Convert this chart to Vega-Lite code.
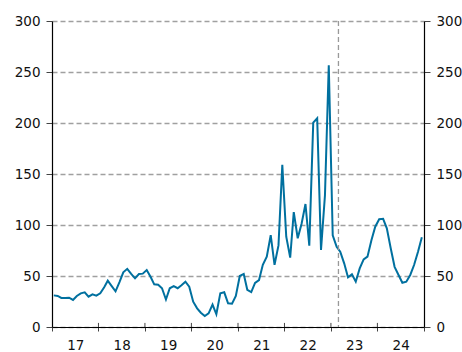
{
  "$schema": "https://vega.github.io/schema/vega-lite/v6.json",
  "width": 372,
  "height": 306,
  "autosize": "none",
  "padding": {"left": 52, "top": 21, "right": 38, "bottom": 25},
  "background": "white",
  "config": {
    "view": {"stroke": null},
    "axis": {"labelFont": "DejaVu Sans", "labelFontSize": 13.5, "labelColor": "#111", "domainColor": "#000", "tickColor": "#444", "title": null}
  },
  "datasets": {
    "series": [
      {"date": "2017-01-15", "value": 31}, {"date": "2017-02-15", "value": 30.5}, {"date": "2017-03-15", "value": 28.5}, {"date": "2017-04-15", "value": 28.5}, {"date": "2017-05-15", "value": 28.7}, {"date": "2017-06-15", "value": 26.5}, {"date": "2017-07-15", "value": 30.4}, {"date": "2017-08-15", "value": 33}, {"date": "2017-09-15", "value": 34}, {"date": "2017-10-15", "value": 29.7}, {"date": "2017-11-15", "value": 32}, {"date": "2017-12-15", "value": 30.7},
      {"date": "2018-01-15", "value": 33}, {"date": "2018-02-15", "value": 39}, {"date": "2018-03-15", "value": 45.4}, {"date": "2018-04-15", "value": 40}, {"date": "2018-05-15", "value": 35}, {"date": "2018-06-15", "value": 44}, {"date": "2018-07-15", "value": 53.6}, {"date": "2018-08-15", "value": 57}, {"date": "2018-09-15", "value": 52}, {"date": "2018-10-15", "value": 47.7}, {"date": "2018-11-15", "value": 52}, {"date": "2018-12-15", "value": 52.3},
      {"date": "2019-01-15", "value": 55.9}, {"date": "2019-02-15", "value": 49}, {"date": "2019-03-15", "value": 41.8}, {"date": "2019-04-15", "value": 41.5}, {"date": "2019-05-15", "value": 38}, {"date": "2019-06-15", "value": 27}, {"date": "2019-07-15", "value": 38}, {"date": "2019-08-15", "value": 40}, {"date": "2019-09-15", "value": 38}, {"date": "2019-10-15", "value": 41}, {"date": "2019-11-15", "value": 44.4}, {"date": "2019-12-15", "value": 39.5},
      {"date": "2020-01-15", "value": 24.8}, {"date": "2020-02-15", "value": 18.3}, {"date": "2020-03-15", "value": 14}, {"date": "2020-04-15", "value": 10.8}, {"date": "2020-05-15", "value": 13.4}, {"date": "2020-06-15", "value": 21.9}, {"date": "2020-07-15", "value": 12.5}, {"date": "2020-08-15", "value": 33}, {"date": "2020-09-15", "value": 34}, {"date": "2020-10-15", "value": 23.2}, {"date": "2020-11-15", "value": 22.9}, {"date": "2020-12-15", "value": 30.4},
      {"date": "2021-01-15", "value": 50}, {"date": "2021-02-15", "value": 52}, {"date": "2021-03-15", "value": 36.5}, {"date": "2021-04-15", "value": 34.3}, {"date": "2021-05-15", "value": 43.2}, {"date": "2021-06-15", "value": 46}, {"date": "2021-07-15", "value": 61}, {"date": "2021-08-15", "value": 69}, {"date": "2021-09-15", "value": 90}, {"date": "2021-10-15", "value": 61}, {"date": "2021-11-15", "value": 80}, {"date": "2021-12-15", "value": 159},
      {"date": "2022-01-15", "value": 88.5}, {"date": "2022-02-15", "value": 68}, {"date": "2022-03-15", "value": 112.7}, {"date": "2022-04-15", "value": 87}, {"date": "2022-05-15", "value": 101}, {"date": "2022-06-15", "value": 120.6}, {"date": "2022-07-15", "value": 79.7}, {"date": "2022-08-15", "value": 200.3}, {"date": "2022-09-15", "value": 204.6}, {"date": "2022-10-15", "value": 75.5}, {"date": "2022-11-15", "value": 129}, {"date": "2022-12-15", "value": 256.5},
      {"date": "2023-01-15", "value": 90}, {"date": "2023-02-15", "value": 78.7}, {"date": "2023-03-15", "value": 73.8}, {"date": "2023-04-15", "value": 62.4}, {"date": "2023-05-15", "value": 48.7}, {"date": "2023-06-15", "value": 51.6}, {"date": "2023-07-15", "value": 44.4}, {"date": "2023-08-15", "value": 57.5}, {"date": "2023-09-15", "value": 66.3}, {"date": "2023-10-15", "value": 69}, {"date": "2023-11-15", "value": 85}, {"date": "2023-12-15", "value": 98.3},
      {"date": "2024-01-15", "value": 105.6}, {"date": "2024-02-15", "value": 106}, {"date": "2024-03-15", "value": 96.7}, {"date": "2024-04-15", "value": 77}, {"date": "2024-05-15", "value": 59}, {"date": "2024-06-15", "value": 51}, {"date": "2024-07-15", "value": 43.4}, {"date": "2024-08-15", "value": 44.4}, {"date": "2024-09-15", "value": 51}, {"date": "2024-10-15", "value": 60.8}, {"date": "2024-11-15", "value": 73.8}, {"date": "2024-12-15", "value": 88}
    ],
    "marker": [{"date": "2023-03-01"}],
    "yearticks": [
      {"date": "2018-01-01", "lo": 0, "hi": 4}, {"date": "2019-01-01", "lo": 0, "hi": 4}, {"date": "2020-01-01", "lo": 0, "hi": 4}, {"date": "2021-01-01", "lo": 0, "hi": 4}, {"date": "2022-01-01", "lo": 0, "hi": 4}, {"date": "2023-01-01", "lo": 0, "hi": 4}, {"date": "2024-01-01", "lo": 0, "hi": 4}
    ]
  },
  "layer": [
    {
      "data": {"name": "series"},
      "mark": {"type": "line", "color": "#00709f", "strokeWidth": 2},
      "encoding": {
        "x": {
          "field": "date",
          "type": "temporal",
          "scale": {"type": "utc", "domain": [{"year": 2017, "month": 1, "date": 1, "utc": true}, {"year": 2025, "month": 1, "date": 1, "utc": true}]},
          "axis": {
            "orient": "bottom",
            "values": [
              {"year": 2017, "month": 1, "date": 1, "utc": true}, {"year": 2018, "month": 1, "date": 1, "utc": true}, {"year": 2019, "month": 1, "date": 1, "utc": true}, {"year": 2020, "month": 1, "date": 1, "utc": true}, {"year": 2021, "month": 1, "date": 1, "utc": true}, {"year": 2022, "month": 1, "date": 1, "utc": true}, {"year": 2023, "month": 1, "date": 1, "utc": true}, {"year": 2024, "month": 1, "date": 1, "utc": true}, {"year": 2025, "month": 1, "date": 1, "utc": true}
            ],
            "labelExpr": "utcyear(datum.value) == 2025 ? '' : utcFormat(datum.value, '%y')",
            "labelOffset": 23.25,
            "labelFlush": false,
            "labelOverlap": false,
            "tickSize": 4,
            "labelPadding": 7,
            "grid": false,
            "domainWidth": 1.2
          }
        },
        "y": {
          "field": "value",
          "type": "quantitative",
          "scale": {"domain": [0, 300]},
          "axis": {
            "orient": "left",
            "values": [0, 50, 100, 150, 200, 250, 300],
            "grid": true,
            "gridDash": [5, 3],
            "gridColor": "#a0a0a0",
            "gridWidth": 1.3,
            "tickSize": 6,
            "labelPadding": 6,
            "domainWidth": 1.2
          }
        }
      }
    },
    {
      "data": {"name": "series"},
      "mark": {"type": "line", "opacity": 0},
      "encoding": {
        "x": {"field": "date", "type": "temporal"},
        "y": {
          "field": "value",
          "type": "quantitative",
          "axis": {
            "orient": "right",
            "values": [0, 50, 100, 150, 200, 250, 300],
            "grid": false,
            "tickSize": 6,
            "labelPadding": 6,
            "domainWidth": 1.2
          }
        }
      }
    },
    {
      "data": {"name": "yearticks"},
      "mark": {"type": "rule", "color": "#444", "strokeWidth": 1},
      "encoding": {
        "x": {"field": "date", "type": "temporal"},
        "y": {"field": "lo", "type": "quantitative", "axis": null},
        "y2": {"field": "hi"}
      }
    },
    {
      "data": {"name": "marker"},
      "mark": {"type": "rule", "color": "#999", "strokeWidth": 1.3, "strokeDash": [5, 3]},
      "encoding": {
        "x": {"field": "date", "type": "temporal"}
      }
    }
  ],
  "resolve": {"axis": {"y": "independent"}}
}
